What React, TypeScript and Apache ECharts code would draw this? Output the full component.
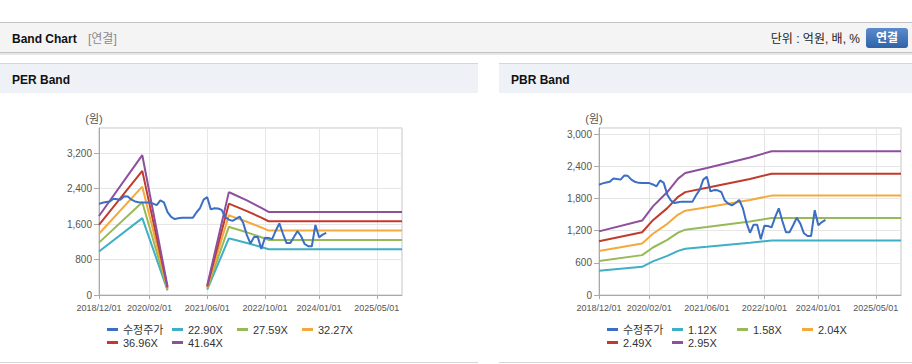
import React, { useEffect, useRef } from "react";
import * as echarts from "echarts";

// ---------- data ----------
const months = [
  "2018/12/01",
  "2019/01/01", "2019/02/01", "2019/03/01", "2019/04/01", "2019/05/01", "2019/06/01",
  "2019/07/01", "2019/08/01", "2019/09/01", "2019/10/01", "2019/11/01", "2019/12/01",
  "2020/01/01", "2020/02/01", "2020/03/01", "2020/04/01", "2020/05/01", "2020/06/01",
  "2020/07/01", "2020/08/01", "2020/09/01", "2020/10/01", "2020/11/01", "2020/12/01",
  "2021/01/01", "2021/02/01", "2021/03/01", "2021/04/01", "2021/05/01", "2021/06/01",
  "2021/07/01", "2021/08/01", "2021/09/01", "2021/10/01", "2021/11/01", "2021/12/01",
  "2022/01/01", "2022/02/01", "2022/03/01", "2022/04/01", "2022/05/01", "2022/06/01",
  "2022/07/01", "2022/08/01", "2022/09/01", "2022/10/01", "2022/11/01", "2022/12/01",
  "2023/01/01", "2023/02/01", "2023/03/01", "2023/04/01", "2023/05/01", "2023/06/01",
  "2023/07/01", "2023/08/01", "2023/09/01", "2023/10/01", "2023/11/01", "2023/12/01",
  "2024/01/01", "2024/02/01", "2024/03/01", "2024/04/01", "2024/05/01", "2024/06/01",
  "2024/07/01", "2024/08/01", "2024/09/01", "2024/10/01", "2024/11/01", "2024/12/01",
  "2025/01/01", "2025/02/01", "2025/03/01", "2025/04/01", "2025/05/01", "2025/06/01",
  "2025/07/01", "2025/08/01", "2025/09/01", "2025/10/01", "2025/11/01", "2025/12/01",
];

const xTickLabels = ["2018/12/01", "2020/02/01", "2021/06/01", "2022/10/01", "2024/01/01", "2025/05/01"];

// 수정주가 (monthly, from 2018/12)
const price = [
  2055, 2080, 2095, 2110, 2170, 2160, 2150, 2225, 2220, 2150,
  2110, 2090, 2085, 2085, 2085, 2060, 2025, 2135, 2090, 1870,
  1760, 1713, 1730, 1740, 1740, 1740, 1740, 1860, 1960, 2150,
  2205, 1930, 1955, 1950, 1920, 1760, 1700, 1670, 1715, 1770,
  1620, 1350, 1160, 1310, 1310, 1040, 1290, 1285, 1260, 1450,
  1615, 1380, 1170, 1170, 1300, 1440, 1330, 1150, 1100, 1100,
  1580, 1300, 1360, 1400,
];

// PER band base (EPS) at the band's break points; null = gap
const perBaseDates = ["2018/12/01", "2019/12/01", "2020/07/01", "2020/08/01", "2021/06/01", "2021/12/01", "2022/01/01", "2022/05/01", "2022/09/01", "2022/11/01", "2025/12/01"];
const perEps = [42.8, 75.7, 4.6, null, 5.2, 55.7, 54.8, 51.2, 47.2, 45.0, 45.0];
const perMultiples = [22.9, 27.59, 32.27, 36.96, 41.64];

// PBR band base (BPS) at the band's break points
const pbrBaseDates = ["2018/12/01", "2019/12/01", "2020/03/01", "2020/07/01", "2020/10/01", "2020/12/01", "2021/06/01", "2022/06/01", "2022/12/01", "2025/12/01"];
const pbrBps = [402, 470, 560, 650, 735, 770, 802, 868, 908, 908];
const pbrMultiples = [1.12, 1.58, 2.04, 2.49, 2.95];

const perYTicks = { max: 3765, interval: 800 };
const pbrYTicks = { max: 3112, interval: 600 };

const priceName = "수정주가";
const priceColor = "#3b6fc3";
const bandColors = ["#3eafc4", "#97b957", "#f3a93c", "#c23a2c", "#8e4f9d"];

const FONT = '"Liberation Sans", Arial, "Noto Sans CJK KR", sans-serif';

function bandName(m: number) {
  return m.toFixed(2) + "X";
}

function bandSeries(dates: string[], base: (number | null)[], mult: number[], axis: number) {
  return mult.map((m, k) => ({
    type: "line",
    name: bandName(m),
    xAxisIndex: axis,
    yAxisIndex: axis,
    data: dates.map((d, i) => [d, base[i] == null ? "-" : Math.round((base[i] as number) * m)]),
    symbol: "none",
    showSymbol: false,
    connectNulls: false,
    silent: true,
    lineStyle: { width: 2, color: bandColors[k] },
    itemStyle: { color: bandColors[k] },
  }));
}

function priceSeries(axis: number) {
  return {
    type: "line",
    name: priceName,
    xAxisIndex: axis,
    yAxisIndex: axis,
    data: price.map((v, i) => [months[i], v]),
    symbol: "none",
    showSymbol: false,
    silent: true,
    lineStyle: { width: 2, color: priceColor },
    itemStyle: { color: priceColor },
  };
}

const tickFn = (_i: number, v: string) => xTickLabels.includes(v);

function xAxis(grid: number) {
  return {
    type: "category",
    gridIndex: grid,
    data: months,
    boundaryGap: false,
    axisLine: { show: true, lineStyle: { color: "#a9a9a9" } },
    axisTick: { show: true, interval: tickFn, length: 4, lineStyle: { color: "#a9a9a9" } },
    axisLabel: { interval: tickFn, fontSize: 9, color: "#555", margin: 8, fontFamily: FONT },
    splitLine: { show: true, interval: tickFn, lineStyle: { color: "#e6e6e6" } },
  };
}

function yAxis(grid: number, t: { max: number; interval: number }) {
  return {
    type: "value",
    gridIndex: grid,
    min: 0,
    max: t.max,
    interval: t.interval,
    axisLine: { show: true, lineStyle: { color: "#a9a9a9" } },
    axisTick: { show: true, length: 5, lineStyle: { color: "#a9a9a9" } },
    axisLabel: {
      showMaxLabel: false,
      margin: 7,
      fontSize: 10,
      color: "#555",
      fontFamily: FONT,
      formatter: (v: number) => v.toLocaleString("en-US"),
    },
    splitLine: { show: true, lineStyle: { color: "#e6e6e6" } },
  };
}

function legendItem(left: number, top: number, name: string) {
  return {
    left,
    top,
    orient: "horizontal",
    data: [name],
    icon: "rect",
    itemWidth: 11,
    itemHeight: 3,
    itemGap: 0,
    padding: 0,
    selectedMode: false,
    textStyle: { fontSize: 11, color: "#333", fontFamily: FONT },
  };
}

function legendGrid(left: number, names: string[]) {
  const cols = [0, 65, 130, 195];
  return names.map((n, i) => legendItem(left + cols[i % 4], i < 4 ? 324 : 337, n));
}

function txt(x: number, y: number, text: string, opts: any = {}) {
  return {
    type: "text",
    x,
    y,
    silent: true,
    style: {
      text,
      fill: opts.fill || "#111",
      font: `${opts.weight || "normal"} ${opts.size || 12}px ${FONT}`,
      textAlign: opts.align || "left",
      align: opts.align || "left",
      textVerticalAlign: "middle",
      verticalAlign: "middle",
    },
  };
}

function rect(x: number, y: number, w: number, h: number, fill: any, r = 0) {
  return { type: "rect", silent: true, z: -10, shape: { x, y, width: w, height: h, r }, style: { fill } };
}

export default function App() {
  const ref = useRef<HTMLDivElement>(null);

  useEffect(() => {
    document.body.style.margin = "0";
    const chart = echarts.init(ref.current!, null, { renderer: "svg" });
    const perNames = perMultiples.map(bandName);
    const pbrNames = pbrMultiples.map(bandName);

    const option: any = {
      animation: false,
      backgroundColor: "#ffffff",
      textStyle: { fontFamily: FONT },
      grid: [
        { left: 99, top: 128, width: 303, height: 167, show: true, borderColor: "#c6c6c6", borderWidth: 1, backgroundColor: "transparent" },
        { left: 599, top: 128, width: 302, height: 167, show: true, borderColor: "#c6c6c6", borderWidth: 1, backgroundColor: "transparent" },
      ],
      xAxis: [xAxis(0), xAxis(1)],
      yAxis: [yAxis(0, perYTicks), yAxis(1, pbrYTicks)],
      legend: [
        ...legendGrid(107, [priceName, ...perNames]),
        ...legendGrid(607, [priceName, ...pbrNames]),
      ],
      graphic: [
        // header bar
        rect(0, 22, 912, 1, "#c4c4c4"),
        rect(0, 23, 912, 29, "#f4f4f4"),
        rect(0, 52, 912, 1, "#c2c2c2"),
        rect(0, 53, 912, 2, "#e6e6e6"),
        txt(12, 39, "Band Chart", { weight: "bold", size: 12 }),
        txt(88, 39, "[연결]", { fill: "#8a8a8a", size: 12 }),
        txt(860, 39, "단위 : 억원, 배, %", { align: "right", size: 12, fill: "#222" }),
        rect(866, 28, 42, 20, new echarts.graphic.LinearGradient(0, 0, 0, 1, [
          { offset: 0, color: "#5b8bcc" },
          { offset: 1, color: "#2f62a8" },
        ]), 3),
        txt(887, 38, "연결", { align: "center", weight: "bold", size: 12, fill: "#ffffff" }),
        // panels
        rect(0, 63, 478, 1, "#d6d6d6"),
        rect(0, 64, 478, 29, "#eef2f7"),
        rect(0, 362, 478, 1, "#d6d6d6"),
        rect(499, 63, 413, 1, "#d6d6d6"),
        rect(499, 64, 413, 29, "#eef2f7"),
        rect(499, 362, 413, 1, "#d6d6d6"),
        txt(12, 80, "PER Band", { weight: "bold", size: 12 }),
        txt(511, 80, "PBR Band", { weight: "bold", size: 12 }),
        txt(94, 119, "(원)", { align: "center", size: 11, fill: "#555" }),
        txt(594, 119, "(원)", { align: "center", size: 11, fill: "#555" }),
      ],
      series: [
        ...bandSeries(perBaseDates, perEps, perMultiples, 0),
        priceSeries(0),
        ...bandSeries(pbrBaseDates, pbrBps, pbrMultiples, 1),
        priceSeries(1),
      ],
    };
    chart.setOption(option);
    return () => chart.dispose();
  }, []);

  return <div ref={ref} style={{ width: 912, height: 364 }} />;
}
